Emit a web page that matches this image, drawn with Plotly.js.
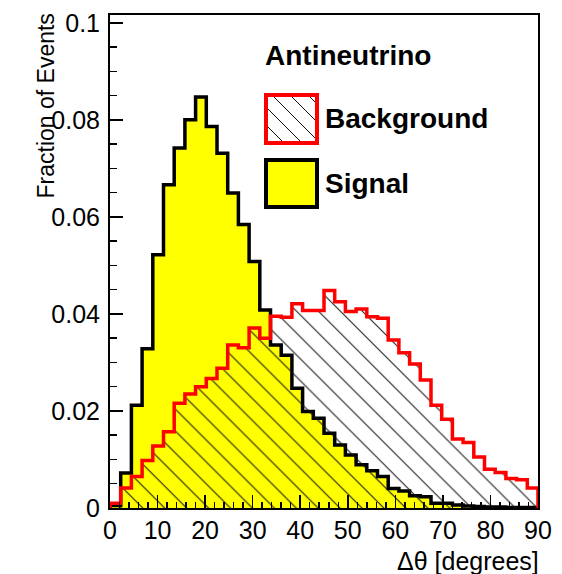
<!DOCTYPE html>
<html><head><meta charset="utf-8">
<script src="https://cdn.plot.ly/plotly-3.0.1.min.js"></script>
<style>html,body{margin:0;padding:0;background:#fff;}#chart{width:562px;height:574px;}</style>
</head><body><div id="chart"></div>
<script>
// ---- data ----
const xMin = 0;
const binWidth = 2.25;
const signal = [0.0005, 0.0072, 0.0212, 0.0328, 0.0522, 0.0666, 0.0742, 0.0800, 0.0847, 0.0786,
                0.0731, 0.0649, 0.0584, 0.0508, 0.0408, 0.0336, 0.0315, 0.0247, 0.0199, 0.0185,
                0.0154, 0.0130, 0.0109, 0.0089, 0.0077, 0.0065, 0.0040, 0.0035, 0.0025, 0.0023,
                0.0010, 0.0010, 0.0006, 0.0004, 0.0003, 0.0002, 0.0002, 0.0001, 0.0001, 0.0001];
const background = [0.0010, 0.0041, 0.0065, 0.0098, 0.0128, 0.0157, 0.0216, 0.0235, 0.0250, 0.0267,
                    0.0288, 0.0336, 0.0330, 0.0371, 0.0350, 0.0395, 0.0393, 0.0421, 0.0407, 0.0407,
                    0.0448, 0.0425, 0.0405, 0.0410, 0.0394, 0.0391, 0.0346, 0.0320, 0.0297, 0.0264,
                    0.0212, 0.0183, 0.0142, 0.0135, 0.0105, 0.0080, 0.0073, 0.0061, 0.0058, 0.0041];
const xTickVals = [0, 10, 20, 30, 40, 50, 60, 70, 80, 90];
const yTickVals = [0, 0.02, 0.04, 0.06, 0.08, 0.1];
const yTickText = ['0', '0.02', '0.04', '0.06', '0.08', '0.1'];
const legendHeader = 'Antineutrino';
const seriesNames = ['Background', 'Signal'];
const xTitle = '\u0394\u03b8 [degrees]';
const yTitle = 'Fraction of Events';

// ---- helpers ----
function stepXY(vals) {
  const xs = [xMin], ys = [0];
  vals.forEach((v, i) => { xs.push(xMin + i * binWidth); ys.push(v); });
  const xEnd = xMin + vals.length * binWidth;
  xs.push(xEnd); ys.push(vals[vals.length - 1]);
  xs.push(xEnd); ys.push(0);
  return {xs, ys};
}
// plot area in pixels (for decorations only)
const PL = 110, PR = 538, PT = 15, PB = 508;
const px = x => (x - PL) / (PR - PL);
const py = y => (PB - y) / (PB - PT);

const sig = stepXY(signal);
const bkg = stepXY(background);
const FONT = 'Liberation Sans, Arial, Helvetica, sans-serif';

const traces = [
  {x: sig.xs, y: sig.ys, type: 'scatter', mode: 'lines', name: seriesNames[1],
   line: {shape: 'hv', color: '#000', width: 3.5}, fill: 'tozeroy', fillcolor: '#ffff00',
   hoverinfo: 'skip'},
  {x: bkg.xs, y: bkg.ys, type: 'scatter', mode: 'lines', name: seriesNames[0],
   line: {shape: 'hv', color: '#ff0000', width: 3.5}, fill: 'tozeroy', fillcolor: 'rgba(0,0,0,0)',
   fillpattern: {shape: '\\', size: 15.5, solidity: 0.065, fgcolor: '#111', bgcolor: 'rgba(0,0,0,0)'},
   hoverinfo: 'skip'}
];

// legend decorations
const shapes = [
  {type: 'rect', xref: 'paper', yref: 'paper', x0: px(266), x1: px(317), y0: py(143), y1: py(95),
   line: {color: '#ff0000', width: 4}, fillcolor: '#fff', layer: 'above'},
  {type: 'rect', xref: 'paper', yref: 'paper', x0: px(266), x1: px(317), y0: py(207), y1: py(160),
   line: {color: '#000', width: 4}, fillcolor: '#ffff00', layer: 'above'}
];
// hatch lines inside background legend box (\ direction)
(function () {
  const bx0 = 268, bx1 = 315, by0 = 97, by1 = 141;
  for (let c = -30; c <= 50; c += 18) {
    let xa = bx0 + c, ya = by0;
    if (xa < bx0) { ya = by0 + (bx0 - xa); xa = bx0; }
    let xb = bx0 + c + (by1 - by0), yb = by1;
    if (xb > bx1) { yb = by1 - (xb - bx1); xb = bx1; }
    if (ya < by1 && xa < bx1 && yb > by0) {
      shapes.push({type: 'line', xref: 'paper', yref: 'paper', x0: px(xa), y0: py(ya), x1: px(xb), y1: py(yb),
                   line: {color: '#111', width: 1}, layer: 'above'});
    }
  }
})();

const annotations = [
  {text: '<b>' + legendHeader + '</b>', xref: 'paper', yref: 'paper', x: px(263), y: py(56),
   xanchor: 'left', yanchor: 'middle', showarrow: false, font: {family: FONT, size: 28, color: '#000'}},
  {text: '<b>' + seriesNames[0] + '</b>', xref: 'paper', yref: 'paper', x: px(323), y: py(118),
   xanchor: 'left', yanchor: 'middle', showarrow: false, font: {family: FONT, size: 28, color: '#000'}},
  {text: '<b>' + seriesNames[1] + '</b>', xref: 'paper', yref: 'paper', x: px(323), y: py(183),
   xanchor: 'left', yanchor: 'middle', showarrow: false, font: {family: FONT, size: 28, color: '#000'}},
  {text: xTitle, xref: 'paper', yref: 'paper', x: px(541), y: py(561),
   xanchor: 'right', yanchor: 'middle', showarrow: false, font: {family: FONT, size: 25, color: '#000'}},
  {text: yTitle, xref: 'paper', yref: 'paper', x: px(45), y: py(12), textangle: -90,
   xanchor: 'center', yanchor: 'top', showarrow: false, font: {family: FONT, size: 23, color: '#000'}}
];

const axisCommon = {
  showline: true, linecolor: '#000', linewidth: 2, mirror: true,
  ticks: 'inside', tickcolor: '#000', tickwidth: 1.5, ticklen: 13,
  showgrid: false, zeroline: false, fixedrange: true,
  tickfont: {family: FONT, size: 25, color: '#000'}
};

const layout = {
  width: 562, height: 574,
  margin: {l: PL, r: 562 - PR, t: PT, b: 574 - PB, pad: 0},
  paper_bgcolor: '#fff', plot_bgcolor: '#fff',
  showlegend: false,
  xaxis: Object.assign({}, axisCommon, {
    range: [0, 90], tickmode: 'array', tickvals: xTickVals, ticklabelstandoff: -1,
    minor: {ticks: 'inside', ticklen: 6.5, dtick: 2, tick0: 0, tickwidth: 1.5, tickcolor: '#000', showgrid: false}
  }),
  yaxis: Object.assign({}, axisCommon, {
    range: [0, 0.1016], tickmode: 'array', tickvals: yTickVals, ticktext: yTickText, ticklabelstandoff: 3,
    minor: {ticks: 'inside', ticklen: 6.5, dtick: 0.005, tick0: 0, tickwidth: 1.5, tickcolor: '#000', showgrid: false}
  }),
  shapes: shapes,
  annotations: annotations
};

Plotly.newPlot('chart', traces, layout, {staticPlot: true, displayModeBar: false});
</script>
</body></html>
